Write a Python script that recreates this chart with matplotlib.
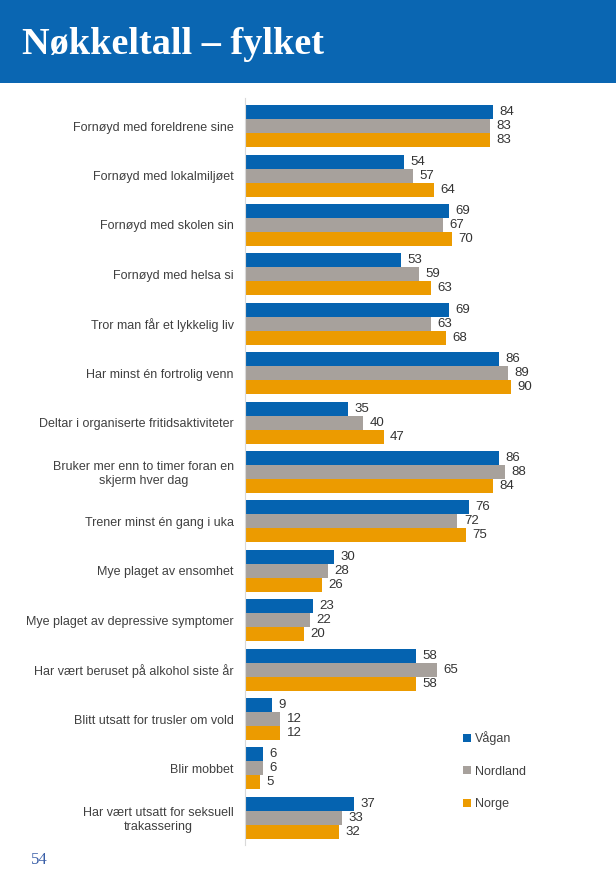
import numpy as np
import matplotlib
matplotlib.use("Agg")
import matplotlib.pyplot as plt
from matplotlib.patches import Rectangle

categories = [
    "Fornøyd med foreldrene sine",
    "Fornøyd med lokalmiljøet",
    "Fornøyd med skolen sin",
    "Fornøyd med helsa si",
    "Tror man får et lykkelig liv",
    "Har minst én fortrolig venn",
    "Deltar i organiserte fritidsaktiviteter",
    "Bruker mer enn to timer foran en\nskjerm hver dag",
    "Trener minst én gang i uka",
    "Mye plaget av ensomhet",
    "Mye plaget av depressive symptomer",
    "Har vært beruset på alkohol siste år",
    "Blitt utsatt for trusler om vold",
    "Blir mobbet",
    "Har vært utsatt for seksuell\ntrakassering",
]
vagan = [84, 54, 69, 53, 69, 86, 35, 86, 76, 30, 23, 58, 9, 6, 37]
nordland = [83, 57, 67, 59, 63, 89, 40, 88, 72, 28, 22, 65, 12, 6, 33]
norge = [83, 64, 70, 63, 68, 90, 47, 84, 75, 26, 20, 58, 12, 5, 32]
series_names = ["Vågan", "Nordland", "Norge"]
colors = ["#0563B0", "#A7A19C", "#EC9B00"]

plt.rcParams["font.family"] = ["Liberation Sans", "DejaVu Sans"]

fig = plt.figure(figsize=(6.16, 8.89), dpi=100)

# header band
fig.patches.append(Rectangle((0, 1 - 83 / 889), 1, 83 / 889, transform=fig.transFigure,
                             facecolor="#0A66B2", edgecolor="none", zorder=0))
fig.text(22 / 616, 1 - 45 / 889, "Nøkkeltall – fylket", color="white", fontsize=27.5,
         fontweight="bold", family=["Liberation Serif", "DejaVu Serif"], va="center", ha="left")
fig.text(31 / 616, 1 - 860 / 889, "54", color="#3A5FA8", fontsize=12,
         family=["Liberation Serif", "DejaVu Serif"], va="center", ha="left")

ax = fig.add_axes([245 / 616, 1 - 845 / 889, 295 / 616, (845 - 98) / 889])

y = np.arange(len(categories))
h = 0.283
for k, (vals, c, name) in enumerate(zip([vagan, nordland, norge], colors, series_names)):
    pos = y + (k - 1) * h
    ax.barh(pos, vals, height=h, color=c, label=name, zorder=2)
    for yy, v in zip(pos, vals):
        ax.text(v + 2.2, yy, str(v), va="center", ha="left", fontsize=9.5, color="#333333")

ax.set_xlim(0, 100)
ax.set_ylim(14.55, -0.57)
ax.set_yticks(y)
ax.set_yticklabels(categories, fontsize=9, color="#404040", multialignment="center")
ax.tick_params(axis="y", length=0, pad=8)
ax.set_xticks([])
for s in ["top", "right", "bottom"]:
    ax.spines[s].set_visible(False)
ax.spines["left"].set_color("#D9D9D9")

leg = ax.legend(loc="upper left", bbox_to_anchor=(457 / 616, 1 - 725 / 889),
                bbox_transform=fig.transFigure, frameon=False, fontsize=9,
                handlelength=0.6, handleheight=0.6, handletextpad=0.3,
                labelspacing=1.65, borderpad=0)
for t in leg.get_texts():
    t.set_color("#404040")

fig.savefig("out.png", dpi=100)
